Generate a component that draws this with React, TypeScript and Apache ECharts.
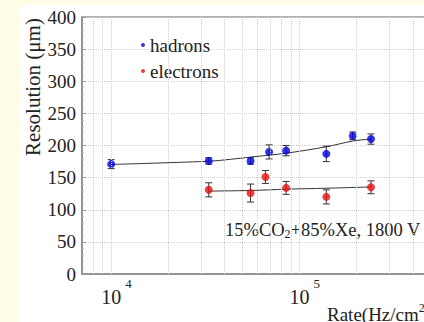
import React, { useEffect, useRef } from 'react';
import * as echarts from 'echarts';

const hadronRate = [10000, 33000, 55000, 69000, 85000, 139000, 192000, 240000];
const hadronRes = [171, 176, 176, 190, 192, 187, 215, 210];
const hadronErr = [7, 5, 5, 11, 8, 12, 6, 8];

const electronRate = [33000, 55000, 66000, 85000, 139000, 240000];
const electronRes = [131, 126, 151, 134, 120, 135];
const electronErr = [11, 14, 10, 10, 11, 10];

const hadronFitRate = [10000, 33000, 43000, 55000, 85000, 139000, 192000, 240000];
const hadronFitRes = [170.5, 175.5, 178.5, 182, 188, 198, 207, 210];

const electronFitRate = [33000, 55000, 85000, 139000, 240000];
const electronFitRes = [129, 130, 132, 133.5, 135.5];

const gridRates = [8000, 9000, 10000, 20000, 30000, 40000, 50000, 60000, 70000, 80000, 90000, 100000, 200000, 300000, 400000];

const xMin = 7000;
const xMax = 500000;
const yMin = 0;
const yMax = 400;
const yInterval = 50;

const FONT = "'Liberation Serif', 'Times New Roman', serif";
const TEXT = '#222';

export default function App() {
  const ref = useRef<HTMLDivElement>(null);

  useEffect(() => {
    document.body.style.margin = '0';
    if (!ref.current) return;
    const chart = echarts.init(ref.current, undefined, { renderer: 'svg' });

    const errorBar = (color: string) => (params: any, api: any) => {
      const x = api.value(0);
      const y = api.value(1);
      const e = api.value(2);
      const top = api.coord([x, y + e]);
      const bot = api.coord([x, y - e]);
      const hw = 3.5;
      const st = { stroke: color, lineWidth: 1 };
      return {
        type: 'group',
        children: [
          { type: 'line', shape: { x1: top[0], y1: top[1], x2: bot[0], y2: bot[1] }, style: st },
          { type: 'line', shape: { x1: top[0] - hw, y1: top[1], x2: top[0] + hw, y2: top[1] }, style: st },
          { type: 'line', shape: { x1: bot[0] - hw, y1: bot[1], x2: bot[0] + hw, y2: bot[1] }, style: st },
        ],
      };
    };

    chart.setOption({
      animation: false,
      backgroundColor: '#ffffff',
      grid: {
        left: 62,
        top: 12,
        right: 9,
        bottom: 48,
        show: true,
        borderColor: '#999',
        borderWidth: 1.5,
        backgroundColor: 'transparent',
      },
      legend: {
        data: ['hadrons', 'electrons'],
        orient: 'vertical',
        left: 121,
        top: 30,
        padding: 0,
        itemGap: 6,
        icon: 'circle',
        itemWidth: 4,
        itemHeight: 4,
        textStyle: { fontSize: 19, fontFamily: FONT, color: TEXT, lineHeight: 20 },
      },
      xAxis: {
        type: 'log',
        logBase: 10,
        min: xMin,
        max: xMax,
        axisLine: { lineStyle: { color: '#888', width: 1.5 } },
        axisTick: { show: false },
        splitLine: { show: false },
        axisLabel: {
          margin: 3,
          color: TEXT,
          formatter: (v: number) => {
            const l = Math.log10(v);
            if (Math.abs(l - Math.round(l)) > 1e-6) return '';
            return '{p|}{b|10}{s|' + Math.round(l) + '}';
          },
          rich: {
            p: { width: 10.5 },
            b: { fontSize: 20, lineHeight: 30, verticalAlign: 'bottom', fontFamily: FONT, color: TEXT },
            s: { fontSize: 13, lineHeight: 9, verticalAlign: 'top', fontFamily: FONT, color: TEXT, padding: [0, 0, 0, 4] },
          },
        },
      },
      yAxis: {
        type: 'value',
        min: yMin,
        max: yMax,
        interval: yInterval,
        axisLine: { show: true, lineStyle: { color: '#888', width: 1.5 } },
        axisTick: { show: true, inside: true, length: 4, lineStyle: { color: '#999' } },
        minorTick: { show: true, splitNumber: 5, length: 2, lineStyle: { color: '#bbb' } },
        splitLine: { show: true, lineStyle: { type: 'dotted', color: '#cfcfcf', width: 1 } },
        axisLabel: { fontSize: 19, fontFamily: FONT, color: TEXT, margin: 6 },
      },
      graphic: [
        {
          type: 'text',
          x: 13,
          y: 82,
          rotation: Math.PI / 2,
          style: {
            text: 'Resolution (μm)',
            fontSize: 21,
            fontFamily: FONT,
            fill: TEXT,
            align: 'center',
            verticalAlign: 'middle',
          },
        },
        {
          type: 'text',
          x: 205,
          y: 215,
          style: {
            text: '15%CO{sub|2}+85%Xe, 1800 V',
            fontSize: 18.5,
            lineHeight: 20,
            fontFamily: FONT,
            fill: TEXT,
            align: 'left',
            verticalAlign: 'top',
            rich: {
              sub: { fontSize: 12, lineHeight: 8, verticalAlign: 'bottom', fontFamily: FONT, fill: TEXT },
            },
          },
        },
        {
          type: 'text',
          x: 307,
          y: 297,
          style: {
            text: '{m|Rate(Hz/cm}{sup|2}{m|)}',
            fontFamily: FONT,
            fill: TEXT,
            align: 'left',
            verticalAlign: 'top',
            rich: {
              m: { fontSize: 19, lineHeight: 24, fontFamily: FONT, fill: TEXT },
              sup: { fontSize: 12, lineHeight: 8, verticalAlign: 'top', fontFamily: FONT, fill: TEXT },
            },
          },
        },
      ],
      series: [
        {
          type: 'line',
          z: 1,
          data: hadronFitRate.map((r, i) => [r, hadronFitRes[i]]),
          smooth: 0.3,
          showSymbol: false,
          symbol: 'none',
          lineStyle: { color: '#333', width: 1 },
          silent: true,
          markLine: {
            silent: true,
            symbol: ['none', 'none'],
            label: { show: false },
            lineStyle: { type: 'dotted', color: '#cfcfcf', width: 1 },
            data: gridRates.map((r) => ({ xAxis: r })),
          },
        },
        {
          type: 'line',
          z: 1,
          data: electronFitRate.map((r, i) => [r, electronFitRes[i]]),
          smooth: 0.3,
          showSymbol: false,
          symbol: 'none',
          lineStyle: { color: '#333', width: 1 },
          silent: true,
        },
        {
          type: 'custom',
          z: 2,
          renderItem: errorBar('#333'),
          data: hadronRate.map((r, i) => [r, hadronRes[i], hadronErr[i]]),
          encode: { x: 0, y: 1 },
        },
        {
          type: 'custom',
          z: 2,
          renderItem: errorBar('#333'),
          data: electronRate.map((r, i) => [r, electronRes[i], electronErr[i]]),
          encode: { x: 0, y: 1 },
        },
        {
          name: 'hadrons',
          type: 'scatter',
          z: 3,
          symbolSize: 8,
          itemStyle: { color: '#0000e0' },
          data: hadronRate.map((r, i) => [r, hadronRes[i]]),
        },
        {
          name: 'electrons',
          type: 'scatter',
          z: 3,
          symbolSize: 8,
          itemStyle: { color: '#e81010' },
          data: electronRate.map((r, i) => [r, electronRes[i]]),
        },
      ],
    });

    return () => chart.dispose();
  }, []);

  return (
    <div
      style={{
        position: 'fixed',
        left: 0,
        top: 0,
        width: 424,
        height: 322,
        overflow: 'hidden',
        background: '#fffde6',
      }}
    >
      <div
        ref={ref}
        style={{ position: 'absolute', left: 20, top: 5, width: 420, height: 317, background: '#fff' }}
      />
    </div>
  );
}
